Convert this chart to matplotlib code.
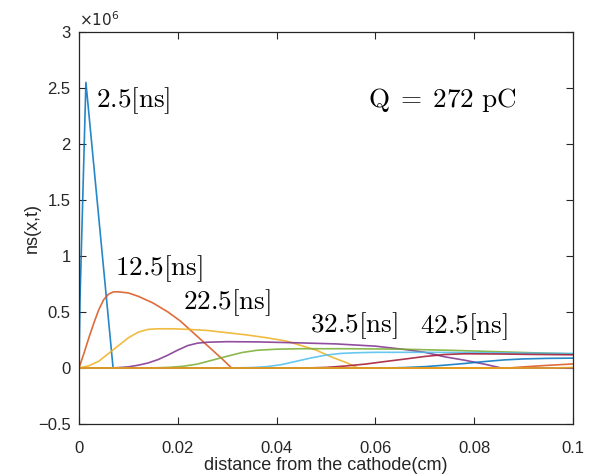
import matplotlib
matplotlib.use("Agg")
import matplotlib.pyplot as plt
from matplotlib.ticker import FuncFormatter

# ns(x,t) profiles, values in units of 1e6, one curve every 10 ns
x_25 = [0, 0.0002, 0.0014, 0.0069, 0.1]
y_25 = [0, 0.6, 2.55, 0, 0]

x_125 = [0, 0.001, 0.002, 0.003, 0.004, 0.005, 0.006, 0.007, 0.008, 0.010, 0.012, 0.015,
         0.018, 0.0205, 0.023, 0.025, 0.027, 0.029, 0.0309, 0.1]
y_125 = [0, 0.13, 0.27, 0.40, 0.52, 0.61, 0.66, 0.68, 0.68, 0.67, 0.64, 0.58,
         0.50, 0.42, 0.32, 0.24, 0.16, 0.08, 0, 0]

x_225 = [0, 0.002, 0.004, 0.006, 0.008, 0.010, 0.012, 0.014, 0.016, 0.019, 0.022, 0.026,
         0.030, 0.034, 0.038, 0.042, 0.045, 0.048, 0.051, 0.054, 0.0565, 0.1]
y_225 = [0, 0.02, 0.06, 0.13, 0.20, 0.27, 0.32, 0.345, 0.35, 0.35, 0.345, 0.335,
         0.315, 0.295, 0.27, 0.24, 0.20, 0.16, 0.10, 0.05, 0, 0]

x_325 = [0, 0.0069, 0.010, 0.012, 0.014, 0.016, 0.018, 0.020, 0.022, 0.024, 0.026, 0.030,
         0.036, 0.044, 0.052, 0.060, 0.066, 0.070, 0.074, 0.078, 0.082, 0.0855, 0.1]
y_325 = [0, 0, 0.01, 0.025, 0.045, 0.075, 0.115, 0.16, 0.20, 0.222, 0.23, 0.235,
         0.233, 0.225, 0.215, 0.195, 0.165, 0.14, 0.10, 0.07, 0.035, 0, 0]

x_425 = [0, 0.014, 0.018, 0.021, 0.024, 0.027, 0.030, 0.033, 0.036, 0.040, 0.045, 0.055,
         0.065, 0.075, 0.085, 0.1]
y_425 = [0, 0, 0.005, 0.015, 0.035, 0.07, 0.105, 0.138, 0.158, 0.168, 0.172, 0.172,
         0.168, 0.158, 0.145, 0.125]

x_525 = [0, 0.031, 0.035, 0.038, 0.041, 0.044, 0.047, 0.050, 0.053, 0.056, 0.06, 0.07,
         0.08, 0.09, 0.1]
y_525 = [0, 0, 0.004, 0.012, 0.03, 0.06, 0.09, 0.115, 0.13, 0.136, 0.14, 0.14,
         0.137, 0.133, 0.13]

x_625 = [0, 0.046, 0.050, 0.054, 0.058, 0.062, 0.066, 0.070, 0.074, 0.078, 0.085, 0.092, 0.1]
y_625 = [0, 0, 0.005, 0.018, 0.035, 0.058, 0.08, 0.103, 0.12, 0.127, 0.125, 0.121, 0.118]

x_725 = [0, 0.062, 0.066, 0.070, 0.074, 0.078, 0.082, 0.086, 0.090, 0.095, 0.1]
y_725 = [0, 0, 0.004, 0.012, 0.025, 0.04, 0.057, 0.072, 0.081, 0.086, 0.088]

x_825 = [0, 0.087, 0.09, 0.095, 0.1]
y_825 = [0, 0, 0.01, 0.024, 0.036]

x_925 = [0, 0.096, 0.1]
y_925 = [0, 0, 0.005]

curves = [(x_25, y_25), (x_125, y_125), (x_225, y_225), (x_325, y_325), (x_425, y_425),
          (x_525, y_525), (x_625, y_625), (x_725, y_725), (x_825, y_825), (x_925, y_925)]

# MATLAB default line colour order
colors = ["#0072BD", "#D95319", "#EDB120", "#7E2F8E", "#77AC30", "#4DBEEE", "#A2142F"]

time_labels = ["2.5[ns]", "12.5[ns]", "22.5[ns]", "32.5[ns]", "42.5[ns]"]
label_x = [0.0034, 0.0073, 0.021, 0.0468, 0.069]
label_y = [2.39, 0.89, 0.58, 0.38, 0.37]

fig = plt.figure(figsize=(5.93, 4.75), dpi=100, facecolor="white")
ax = fig.add_axes([0.1332, 0.1074, 0.8331, 0.8252])

for k, (xs, ys) in enumerate(curves):
    ax.plot(xs, ys, color=colors[k % len(colors)], lw=1.2, alpha=0.85)

for t, lx, ly in zip(time_labels, label_x, label_y):
    ax.text(lx, ly, r"$\mathrm{" + t + "}$", math_fontfamily="cm",
            fontsize=19.5, ha="left", va="center", color="black")

ax.text(0.0585, 2.39, r"$\mathrm{Q\;=\;272\ pC}$", math_fontfamily="cm",
        fontsize=19.5, ha="left", va="center", color="black")

ax.set_xlim(0, 0.1)
ax.set_ylim(-0.5, 3)
ax.set_xticks([0, 0.02, 0.04, 0.06, 0.08, 0.1])
ax.set_yticks([-0.5, 0, 0.5, 1, 1.5, 2, 2.5, 3])
fmt = FuncFormatter(lambda v, p: f"{v:g}".replace("-", "\u2212"))
ax.xaxis.set_major_formatter(fmt)
ax.yaxis.set_major_formatter(fmt)

tick_font = "Liberation Sans"
for lab in ax.get_xticklabels() + ax.get_yticklabels():
    lab.set_fontfamily(tick_font)
    lab.set_fontsize(12)
    lab.set_color("#262626")

ax.tick_params(direction="in", length=5, width=0.8, top=True, right=True,
               colors="#262626")
ax.tick_params(axis="x", pad=12)
ax.tick_params(axis="y", pad=6)
for spine in ax.spines.values():
    spine.set_color("#262626")
    spine.set_linewidth(0.9)

ax.text(0.0, 1.008, r"$\times10^{6}$", transform=ax.transAxes, math_fontfamily="dejavusans",
        fontsize=11, ha="left", va="bottom", color="#262626")

ax.set_xlabel("distance from the cathode(cm)", fontfamily=tick_font, fontsize=13,
              color="#262626", labelpad=1)
ax.set_ylabel("ns(x,t)", fontfamily=tick_font, fontsize=13, color="#262626", labelpad=-2)

fig.savefig("out.png", dpi=100, facecolor="white")
